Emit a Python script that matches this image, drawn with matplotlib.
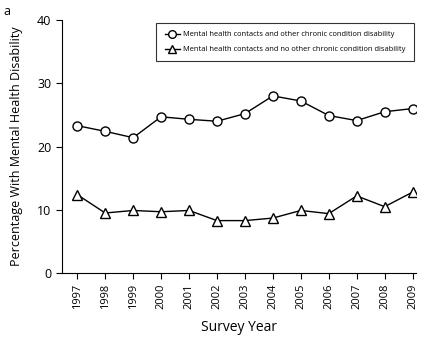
import matplotlib
matplotlib.use('Agg')
import matplotlib.pyplot as plt

plt.rcParams['font.family'] = ['Open Sans', 'DejaVu Sans']

# data
years = [1997, 1998, 1999, 2000, 2001, 2002, 2003, 2004, 2005, 2006, 2007, 2008, 2009]
with_chronic = [23.3, 22.4, 21.4, 24.7, 24.3, 24.0, 25.2, 28.0, 27.2, 24.9, 24.1, 25.5, 26.0]
no_chronic = [12.4, 9.5, 9.9, 9.7, 9.9, 8.3, 8.3, 8.7, 9.9, 9.4, 12.2, 10.5, 12.8]
labels = ['Mental health contacts and other chronic condition disability',
          'Mental health contacts and no other chronic condition disability']

fig = plt.figure(figsize=(4.21, 3.44), dpi=100)
ax = fig.add_axes([0.147, 0.206, 0.841, 0.736])

ax.plot(years, with_chronic, color='black', lw=1, marker='o', ms=6.5,
        mfc='white', mec='black', mew=1, label=labels[0])
ax.plot(years, no_chronic, color='black', lw=1, marker='^', ms=7.5,
        mfc='white', mec='black', mew=1, label=labels[1])

ax.set_xlim(1996.45, 2009.12)
ax.set_ylim(0, 40)
ax.set_xticks(years)
ax.set_xticklabels([str(y) for y in years], rotation=90, fontsize=8)
ax.set_yticks([0, 10, 20, 30, 40])
ax.tick_params(axis='y', labelsize=9, length=4, width=0.8)
ax.tick_params(axis='x', length=4, width=0.8)
ax.spines['top'].set_visible(False)
ax.spines['right'].set_visible(False)

ax.set_ylabel('Percentage With Mental Health Disability', fontsize=9, labelpad=10)
ax.set_xlabel('Survey Year', fontsize=10, labelpad=8)

leg = ax.legend(loc='upper right', bbox_to_anchor=(1.005, 1.003), fontsize=5.4,
                frameon=True, fancybox=False, edgecolor='black', markerscale=0.85,
                handlelength=2, borderpad=1.1, labelspacing=1.0, handletextpad=0.5)
leg.get_frame().set_linewidth(0.8)

fig.text(0.008, 0.985, 'a', fontsize=9, va='top', ha='left')

fig.savefig('out.png', dpi=100)
